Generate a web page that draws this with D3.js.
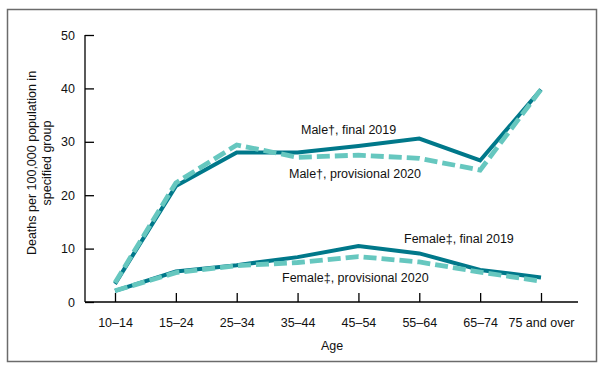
<!DOCTYPE html>
<html><head><meta charset="utf-8">
<script src="https://cdn.jsdelivr.net/npm/d3@7"></script>
<style>
body{margin:0;background:#fff;}
svg{display:block;font-family:"Liberation Sans",Arial,sans-serif;}
</style></head>
<body>
<svg id="c" width="603" height="370"></svg>
<script>
const ages = ["10–14","15–24","25–34","35–44","45–54","55–64","65–74","75 and over"];
const maleFinal2019 = [3.4, 21.7, 28.0, 28.0, 29.2, 30.6, 26.5, 39.8];
const maleProv2020 = [3.6, 22.3, 29.4, 27.1, 27.5, 26.9, 24.7, 39.8];
const femaleFinal2019 = [2.1, 5.7, 6.9, 8.4, 10.5, 9.1, 6.0, 4.6];
const femaleProv2020 = [2.1, 5.5, 6.8, 7.4, 8.5, 7.5, 5.6, 3.9];
const yTicks = [0, 10, 20, 30, 40, 50];

const svg = d3.select("#c");
const darkC = "#00788a", lightC = "#66c7bf";

// frame
svg.append("rect").attr("x", 7.5).attr("y", 9.5).attr("width", 589).attr("height", 352)
  .attr("fill", "none").attr("stroke", "#6b6b6b").attr("stroke-width", 1.5);

const x = d3.scalePoint().domain(ages).range([115, 541]);
const y = d3.scaleLinear().domain([0, 50]).range([302, 35]);

// axes
const yAxis = d3.axisLeft(y).tickValues(yTicks).tickSize(0).tickPadding(10);
const gy = svg.append("g").attr("transform", "translate(85,0)").call(yAxis);
gy.select(".domain").attr("d", "M0,35V302").attr("stroke", "#000").attr("stroke-width", 1.3);
gy.selectAll(".tick line").attr("stroke", "#000").attr("stroke-width", 1.3).attr("x1", 0).attr("x2", 9);
gy.selectAll(".tick text").attr("font-size", 12.5).attr("fill", "#111");

const xAxis = d3.axisBottom(x).tickSize(-9).tickPadding(0);
const gx = svg.append("g").attr("transform", "translate(0,302)").call(xAxis);
gx.select(".domain").attr("d", "M85,0H578").attr("stroke", "#000").attr("stroke-width", 1.3);
gx.selectAll(".tick line").attr("stroke", "#000").attr("stroke-width", 1.3);
gx.selectAll(".tick text").attr("font-size", 12.5).attr("fill", "#111").attr("y", 16).attr("dy", "0.71em");

// axis titles
svg.append("text").attr("transform", "translate(36,163) rotate(-90)").attr("text-anchor", "middle")
  .attr("font-size", 12.5).attr("fill", "#111").text("Deaths per 100,000 population in");
svg.append("text").attr("transform", "translate(51,163) rotate(-90)").attr("text-anchor", "middle")
  .attr("font-size", 12.5).attr("fill", "#111").text("specified group");
svg.append("text").attr("x", 332).attr("y", 350).attr("text-anchor", "middle")
  .attr("font-size", 12.5).attr("fill", "#111").text("Age");

// lines
const line = d3.line().x((d, i) => x(ages[i])).y(d => y(d));
function solid(data) {
  svg.append("path").datum(data).attr("d", line).attr("fill", "none")
    .attr("stroke", darkC).attr("stroke-width", 4).attr("stroke-linejoin", "miter");
}
function dashed(data) {
  svg.append("path").datum(data).attr("d", line).attr("fill", "none")
    .attr("stroke", lightC).attr("stroke-width", 4.8).attr("stroke-dasharray", "13,5");
}
solid(maleFinal2019);
solid(femaleFinal2019);
dashed(maleProv2020);
dashed(femaleProv2020);

// labels
const labels = [
  {t: "Male†, final 2019", x: 301, y: 134},
  {t: "Male†, provisional 2020", x: 289, y: 178},
  {t: "Female‡, final 2019", x: 404, y: 243},
  {t: "Female‡, provisional 2020", x: 282, y: 282}
];
svg.selectAll(".lbl").data(labels).enter().append("text")
  .attr("x", d => d.x).attr("y", d => d.y).attr("font-size", 12.5).attr("fill", "#111").text(d => d.t);
</script>
</body></html>
